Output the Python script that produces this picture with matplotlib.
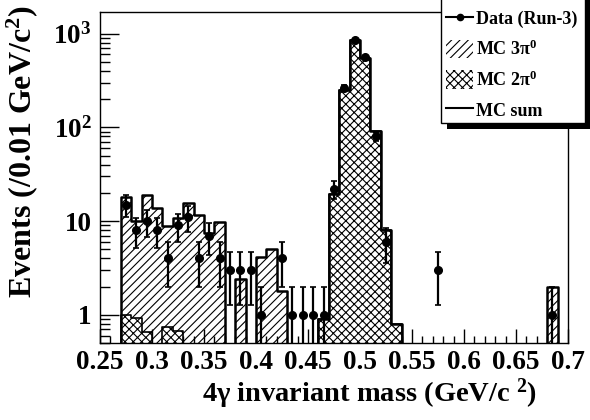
import numpy as np
import matplotlib
matplotlib.use("Agg")
import matplotlib.pyplot as plt
from matplotlib.patches import Rectangle, Patch
from matplotlib.lines import Line2D

# bins of 0.01 GeV/c^2 from 0.25 to 0.70
bin_lo = 0.25
bin_hi = 0.70
bin_w = 0.01

# MC sum (3pi0 + 2pi0), non-empty bins: lower edge -> content
mc_sum_lo = [0.27, 0.28, 0.29, 0.30, 0.31, 0.32, 0.33, 0.34, 0.35, 0.36,
             0.38, 0.40, 0.41, 0.42, 0.46, 0.47, 0.48, 0.49, 0.50, 0.51,
             0.52, 0.53, 0.68]
mc_sum_val = [18, 10, 19, 13.7, 8.9, 10.7, 15.5, 11.6, 7.4, 9.8,
              2.4, 4.1, 5.0, 1.8, 0.9, 19.6, 248, 862, 546, 90.6,
              8.0, 0.8, 2.0]

# MC 2pi0 only
mc_2pi_lo = [0.27, 0.28, 0.29, 0.31, 0.32, 0.46, 0.47, 0.48, 0.49, 0.50,
             0.51, 0.52, 0.53]
mc_2pi_val = [1.0, 0.92, 0.65, 0.74, 0.67, 0.9, 19.6, 248, 862, 546,
              90.6, 8.0, 0.8]

# data (Run-3), bin centres and counts
data_x = [0.275, 0.285, 0.295, 0.305, 0.315, 0.325, 0.335, 0.345, 0.355, 0.365,
          0.375, 0.385, 0.395, 0.405, 0.425, 0.435, 0.445, 0.455, 0.465, 0.475,
          0.485, 0.495, 0.505, 0.515, 0.525, 0.575, 0.685]
data_n = [15, 8, 10, 8, 4, 9, 11, 4, 7, 4,
          3, 3, 3, 1, 4, 1, 1, 1, 1, 22,
          265, 850, 560, 80, 6, 3, 1]

xticks = [0.25, 0.3, 0.35, 0.4, 0.45, 0.5, 0.55, 0.6, 0.65, 0.7]
xtick_labels = ["0.25", "0.3", "0.35", "0.4", "0.45", "0.5", "0.55", "0.6", "0.65", "0.7"]
yticks = [1, 10, 100, 1000]
ytick_labels = ["1", "10", "10$^{2}$", "10$^{3}$"]

plt.rcParams["font.family"] = ["Liberation Serif", "DejaVu Serif"]
plt.rcParams["font.weight"] = "bold"
plt.rcParams["mathtext.fontset"] = "custom"
plt.rcParams["mathtext.rm"] = "Liberation Serif:bold"
plt.rcParams["mathtext.it"] = "Liberation Serif:bold"
plt.rcParams["mathtext.bf"] = "Liberation Serif:bold"
plt.rcParams["mathtext.default"] = "rm"
plt.rcParams["hatch.linewidth"] = 0.8


def to_bins(lo_list, vals, nb):
    h = np.zeros(nb)
    for lo, v in zip(lo_list, vals):
        h[int(round((lo - bin_lo) / bin_w))] = v
    return h


nbins = int(round((bin_hi - bin_lo) / bin_w))
edges = bin_lo + bin_w * np.arange(nbins + 1)
floor = 1e-3

h_sum = to_bins(mc_sum_lo, mc_sum_val, nbins)
h_2pi = to_bins(mc_2pi_lo, mc_2pi_val, nbins)

fig = plt.figure(figsize=(5.9, 4.2), dpi=100)
ax = fig.add_axes([100 / 590, 1 - 343 / 420, 468 / 590, 331 / 420])

ys = np.append(np.where(h_sum > 0, h_sum, floor), floor)
ax.fill_between(edges, ys, floor, step="post", facecolor="white",
                edgecolor="black", hatch="////", linewidth=0, zorder=1)
y2 = np.append(np.where(h_2pi > 0, h_2pi, floor), floor)
ax.fill_between(edges, y2, floor, step="post", facecolor="white",
                edgecolor="black", hatch="xxxx", linewidth=0, zorder=2)
ax.step(edges, y2, where="post", color="black", lw=1.2, zorder=3)
ax.step(edges, ys, where="post", color="black", lw=1.8, zorder=4)

dn = np.array(data_n, dtype=float)
err = np.sqrt(dn)
err_lo = np.minimum(err, dn - floor)
ax.errorbar(data_x, dn, yerr=[err_lo, err], fmt="o", color="black",
            markersize=5.5, elinewidth=1.6, capsize=2, capthick=1.2, zorder=5)

ax.set_yscale("log")
ax.set_xlim(bin_lo, bin_hi)
ax.set_ylim(0.5, 1700)
ax.set_xticks(xticks)
ax.set_xticklabels(xtick_labels)
ax.set_xticks(np.arange(0.25, 0.701, 0.01), minor=True)
ax.set_yticks(yticks)
ax.set_yticklabels(ytick_labels)
ax.tick_params(axis="both", which="both", direction="in", top=False, right=False)
ax.tick_params(axis="x", which="major", length=10, width=1, labelsize=19.5, pad=5)
ax.tick_params(axis="x", which="minor", length=5, width=1)
ax.tick_params(axis="y", which="major", length=14, width=1, labelsize=19.5, pad=6)
ax.tick_params(axis="y", which="minor", length=7, width=1)
for s in ax.spines.values():
    s.set_linewidth(1)

ax.set_xlabel("4γ invariant mass (GeV/c $^{2}$)", fontsize=20.5, fontweight="bold",
              ha="right", va="top")
ax.xaxis.set_label_coords(0.934, -0.10)
ax.set_ylabel("Events (/0.01 GeV/c$^{2}$)", fontsize=23, fontweight="bold",
              ha="center", va="bottom")
ax.yaxis.set_label_coords(-0.128, 0.577)

# legend box with offset black shadow, drawn by hand
fig.patches.append(Rectangle((447 / 590, 1 - 129 / 420), 143 / 590, 131 / 420,
                             transform=fig.transFigure, facecolor="black",
                             edgecolor="none", zorder=8))
fig.patches.append(Rectangle((441 / 590, 1 - 123 / 420), 144 / 590, 125 / 420,
                             transform=fig.transFigure, facecolor="white",
                             edgecolor="black", lw=1, zorder=9))
handles = [
    Line2D([], [], color="black", marker="o", markersize=4.5, lw=1.5),
    Patch(facecolor="white", edgecolor="black", hatch="////", lw=0),
    Patch(facecolor="white", edgecolor="black", hatch="xxxx", lw=0),
    Line2D([], [], color="black", lw=1.5),
]
labels = ["Data (Run-3)", "MC 3π$^{0}$", "MC 2π$^{0}$", "MC sum"]
leg = fig.legend(handles, labels, loc="upper left",
                 bbox_to_anchor=(446 / 590, 1 - 9 / 420),
                 bbox_transform=fig.transFigure, borderaxespad=0,
                 frameon=False, borderpad=0,
                 prop={"family": "Liberation Serif", "weight": "bold", "size": 13},
                 handlelength=1.5, handleheight=1.2, handletextpad=0.15,
                 labelspacing=0.62)
leg.set_zorder(10)

fig.savefig("out.png", dpi=100)
